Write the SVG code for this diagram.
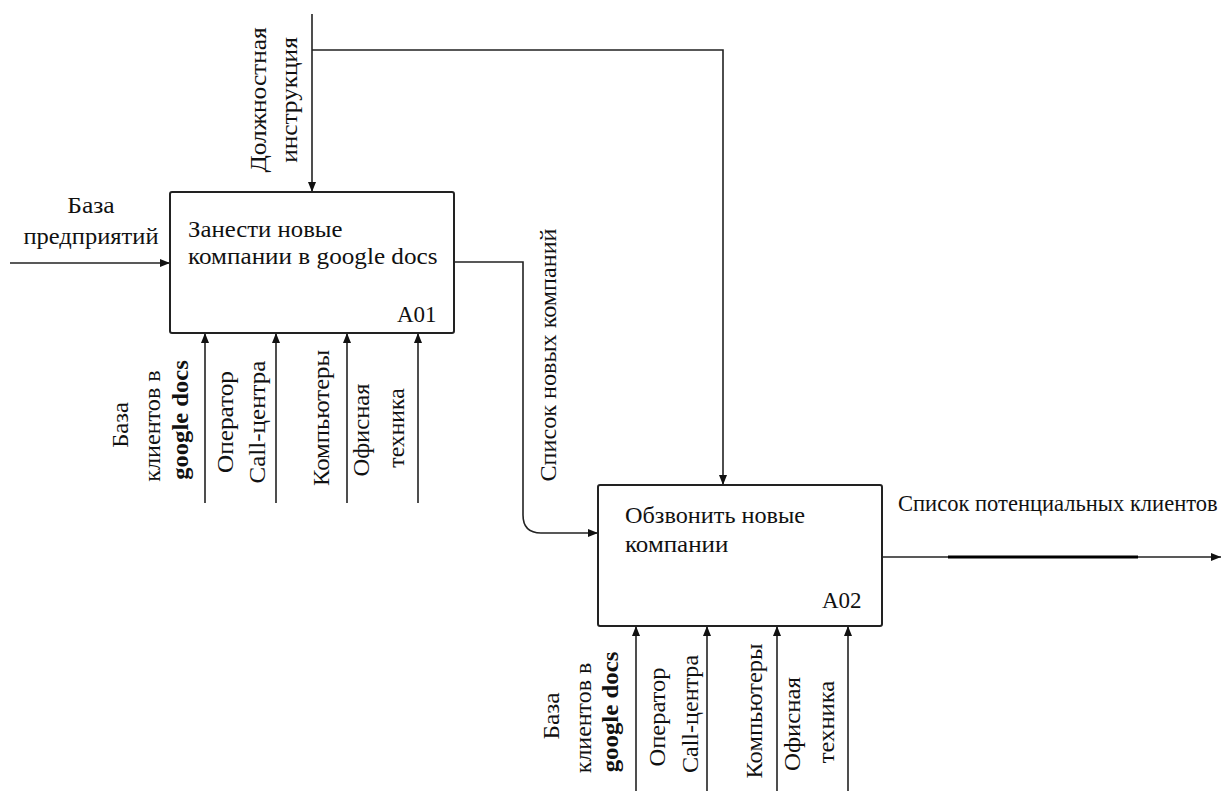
<svg xmlns="http://www.w3.org/2000/svg" width="1221" height="791" viewBox="0 0 1221 791">
<style>
.box{fill:#fff;stroke:#222;stroke-width:2}
.ln{fill:none;stroke:#222;stroke-width:1.6}
.t{font-size:23px;fill:#111}
.b{font-weight:bold}
.c{text-anchor:middle}
</style>
<defs>
<marker id="ah" viewBox="0 0 10 10" refX="10" refY="5" markerWidth="10" markerHeight="10" markerUnits="userSpaceOnUse" orient="auto">
<path d="M0,1 L10,5 L0,9 Z" fill="#111"/>
</marker>
</defs>
<rect width="1221" height="791" fill="#fff"/>
<g id="connectors">
<path class="ln" d="M312,14 V192" marker-end="url(#ah)"/>
<path class="ln" d="M312,50 H723 V485" marker-end="url(#ah)"/>
<path class="ln" d="M10,263 H170" marker-end="url(#ah)"/>
<path class="ln" d="M454,262 H523 V515 Q523,533 541,533 H598" marker-end="url(#ah)"/>
<path class="ln" d="M882,557 H1221" marker-end="url(#ah)"/>
<path d="M948,557 H1138" stroke="#000" stroke-width="3"/>
<path class="ln" d="M205,503 V333" marker-end="url(#ah)"/>
<path class="ln" d="M276,503 V333" marker-end="url(#ah)"/>
<path class="ln" d="M347,503 V333" marker-end="url(#ah)"/>
<path class="ln" d="M418,503 V333" marker-end="url(#ah)"/>
<path class="ln" d="M636,791 V626" marker-end="url(#ah)"/>
<path class="ln" d="M707,791 V626" marker-end="url(#ah)"/>
<path class="ln" d="M777,791 V626" marker-end="url(#ah)"/>
<path class="ln" d="M848,791 V626" marker-end="url(#ah)"/>
</g>
<g id="labels" class="t" font-family="Liberation Serif">
<text font-family="Liberation Serif" transform="translate(91,213) scale(1.11,1)" class="c">База</text>
<text font-family="Liberation Serif" transform="translate(91,244) scale(1.066,1)" class="c">предприятий</text>
<text font-family="Liberation Serif" transform="translate(266,100) rotate(-90) scale(1.1,1)" class="c">Должностная</text>
<text font-family="Liberation Serif" transform="translate(297,100) rotate(-90) scale(1.1,1)" class="c">инструкция</text>
<text font-family="Liberation Serif" transform="translate(556,355) rotate(-90) scale(1.05,1)" class="c">Список новых компаний</text>
<text font-family="Liberation Serif" transform="translate(898,511) scale(0.98,1)">Список потенциальных клиентов</text>
<text font-family="Liberation Serif" transform="translate(128,425) rotate(-90) scale(1.07,1)" class="c">База</text>
<text font-family="Liberation Serif" transform="translate(160,426) rotate(-90) scale(1.05,1)" class="c">клиентов в</text>
<text font-family="Liberation Serif" transform="translate(188,420) rotate(-90) scale(1.07,1)" class="c b">google docs</text>
<text font-family="Liberation Serif" transform="translate(233,422) rotate(-90) scale(1.097,1)" class="c">Оператор</text>
<text font-family="Liberation Serif" transform="translate(265,422) rotate(-90) scale(1.09,1)" class="c">Call-центра</text>
<text font-family="Liberation Serif" transform="translate(329,418) rotate(-90) scale(1.075,1)" class="c">Компьютеры</text>
<text font-family="Liberation Serif" transform="translate(369,430) rotate(-90) scale(1.07,1)" class="c">Офисная</text>
<text font-family="Liberation Serif" transform="translate(404,428) rotate(-90) scale(1.03,1)" class="c">техника</text>
<text font-family="Liberation Serif" transform="translate(559,716) rotate(-90) scale(1.1,1)" class="c">База</text>
<text font-family="Liberation Serif" transform="translate(591,718) rotate(-90) scale(1.04,1)" class="c">клиентов в</text>
<text font-family="Liberation Serif" transform="translate(618,712) rotate(-90) scale(1.08,1)" class="c b">google docs</text>
<text font-family="Liberation Serif" transform="translate(665,717) rotate(-90) scale(1.065,1)" class="c">Оператор</text>
<text font-family="Liberation Serif" transform="translate(698,714) rotate(-90) scale(1.048,1)" class="c">Call-центра</text>
<text font-family="Liberation Serif" transform="translate(762,711) rotate(-90) scale(1.067,1)" class="c">Компьютеры</text>
<text font-family="Liberation Serif" transform="translate(800,724) rotate(-90) scale(1.08,1)" class="c">Офисная</text>
<text font-family="Liberation Serif" transform="translate(834,722) rotate(-90) scale(1.07,1)" class="c">техника</text>
</g>
<g id="A01" class="t" font-family="Liberation Serif">
<rect class="box" x="170" y="192" width="284" height="141" rx="2"/>
<text font-family="Liberation Serif" transform="translate(188,237) scale(1.077,1)">Занести новые</text>
<text font-family="Liberation Serif" transform="translate(188,264) scale(1.095,1)">компании в google docs</text>
<text font-family="Liberation Serif" x="397" y="322">A01</text>
</g>
<g id="A02" class="t" font-family="Liberation Serif">
<rect class="box" x="598" y="485" width="284" height="141" rx="2"/>
<text font-family="Liberation Serif" transform="translate(625,523) scale(1.055,1)">Обзвонить новые</text>
<text font-family="Liberation Serif" transform="translate(625,552) scale(1.087,1)">компании</text>
<text font-family="Liberation Serif" x="822" y="608">A02</text>
</g>
</svg>
